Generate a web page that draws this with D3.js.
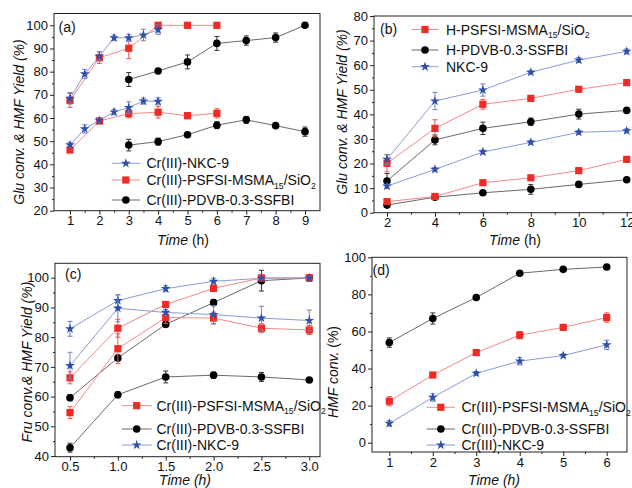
<!DOCTYPE html>
<html>
<head>
<meta charset="utf-8">
<script src="https://cdn.jsdelivr.net/npm/d3@7"></script>
<style>
  html, body { margin: 0; padding: 0; background: #fff; }
  svg { display: block; }
  text { font-family: "Liberation Sans", Arial, sans-serif; fill: #111; }
</style>
</head>
<body>
<svg id="fig" width="632" height="488"></svg>
<script>
// ---------- (a) Cr(III) catalysts, glucose ----------
const aTimeNKC = [1, 1.5, 2, 2.5, 3, 3.5, 4];
const aTimePSF = [1, 2, 3, 4, 5, 6];
const aTimePDVB = [3, 4, 5, 6, 7, 8, 9];
const aConvNKC = [68.5, 79, 86.6, 94.6, 94.6, 95.8, 98.1];
const aConvNKCErr = [2.5, 2, 2, 1.2, 1.5, 2.5, 2];
const aYieldNKC = [48.4, 55.3, 59.0, 62.6, 64.5, 67.3, 67.2];
const aYieldNKCErr = [1, 1.8, 1, 1.2, 2.5, 1.3, 1.5];
const aConvPSF = [67.6, 86.0, 90.1, 100, 100, 100];
const aConvPSFErr = [3, 2.5, 4.5, 0, 0, 0];
const aYieldPSF = [46.2, 58.7, 61.9, 62.5, 61.0, 62.0];
const aYieldPSFErr = [1, 1, 1.8, 2.5, 1.3, 2];
const aConvPDVB = [76.6, 80.3, 84.2, 92.2, 93.4, 94.7, 100];
const aConvPDVBErr = [3, 0.8, 3, 3, 2, 2, 0];
const aYieldPDVB = [48.3, 49.8, 52.8, 56.9, 59.2, 56.7, 54.1];
const aYieldPDVBErr = [2.5, 1.5, 0.8, 1.5, 1.5, 0.8, 2];

// ---------- (b) H-form catalysts, glucose ----------
const bTime = [2, 4, 6, 8, 10, 12];
const bConvNKC = [21.7, 45.4, 49.9, 57.1, 62.1, 65.6];
const bConvNKCErr = [2, 3.5, 2.5, 0.8, 1, 1];
const bYieldNKC = [10.8, 17.6, 24.7, 28.6, 32.7, 33.3];
const bYieldNKCErr = [0.8, 0.8, 0.8, 0.8, 0.8, 0.8];
const bConvPSF = [20.1, 34.3, 44.1, 46.5, 50.2, 52.9];
const bConvPSFErr = [3.5, 3.5, 2, 0.8, 1, 0.8];
const bYieldPSF = [4.5, 6.6, 12.2, 14.2, 17.1, 21.7];
const bYieldPSFErr = [1, 0.5, 0.8, 0.8, 0.8, 1];
const bConvPDVB = [12.9, 29.6, 34.3, 37.0, 40.1, 41.6];
const bConvPDVBErr = [3, 2, 2.5, 1.5, 2, 0.8];
const bYieldPDVB = [3.1, 6.3, 8.1, 9.5, 11.5, 13.4];
const bYieldPDVBErr = [0.8, 0.8, 0.8, 2, 0.8, 0.8];

// ---------- (c) Cr(III) catalysts, fructose ----------
const cTime = [0.5, 1.0, 1.5, 2.0, 2.5, 3.0];
const cConvNKC = [82.8, 92.3, 96.3, 98.8, 99.8, 99.9];
const cConvNKCErr = [2.5, 2, 1, 1, 0.5, 0.5];
const cYieldNKC = [70.4, 89.7, 88.3, 87.6, 86.4, 85.6];
const cYieldNKCErr = [4.5, 4.5, 1, 3, 4, 3.5];
const cConvPSF = [66.3, 83.0, 91.0, 96.4, 99.9, 100];
const cConvPSFErr = [2, 3, 1, 1, 1, 0.5];
const cYieldPSF = [54.6, 76.1, 86.6, 86.4, 83.0, 82.4];
const cYieldPSFErr = [2, 5, 2, 2, 1.5, 1.5];
const cConvPDVB = [59.6, 73.0, 84.3, 91.6, 99.0, 99.9];
const cConvPDVBErr = [1, 1, 1, 1, 3.5, 0.5];
const cYieldPDVB = [42.8, 60.6, 66.6, 67.2, 66.6, 65.6];
const cYieldPDVBErr = [1.5, 1, 2, 1, 1.5, 0.5];

// ---------- (d) HMF conversion ----------
const dTime = [1, 2, 3, 4, 5, 6];
const dConvPDVB = [54.0, 67.0, 78.3, 91.4, 93.5, 94.8];
const dConvPDVBErr = [2.5, 3, 0.8, 0.8, 1, 0.8];
const dConvPSF = [22.4, 36.5, 48.6, 58.0, 62.2, 67.5];
const dConvPSFErr = [2.5, 1, 0.8, 2, 1.5, 2.5];
const dConvNKC = [10.4, 24.4, 37.4, 44.0, 47.0, 52.8];
const dConvNKCErr = [1.5, 2, 1, 2, 1, 2.5];

// ---------- tick labels ----------
const aXTicks = [1, 2, 3, 4, 5, 6, 7, 8, 9];
const aYTicks = [20, 30, 40, 50, 60, 70, 80, 90, 100];
const bXTicks = [2, 4, 6, 8, 10, 12];
const bYTicks = [0, 10, 20, 30, 40, 50, 60, 70, 80];
const cXTicks = [0.5, 1.0, 1.5, 2.0, 2.5, 3.0];
const cYTicks = [40, 50, 60, 70, 80, 90, 100];
const dXTicks = [1, 2, 3, 4, 5, 6];
const dYTicks = [0, 20, 40, 60, 80, 100];

// ---------- styles ----------
const STY = {
  red:   { marker: "#ee2b25", line: "#f58a8a", err: "#ee5550", shape: "square" },
  black: { marker: "#000000", line: "#6a6a6a", err: "#333333", shape: "circle" },
  blue:  { marker: "#2f4fa8", line: "#8a9cd6", err: "#6f84c6", shape: "star" }
};

const svg = d3.select("#fig");

function marker(g, shape, color) {
  if (shape === "square") {
    return g.append("rect").attr("x", -3.6).attr("y", -3.6).attr("width", 7.2).attr("height", 7.2).attr("fill", color);
  } else if (shape === "circle") {
    return g.append("circle").attr("r", 3.8).attr("fill", color);
  }
  return g.append("path").attr("d", d3.symbol(d3.symbolStar, 30)()).attr("fill", color);
}

function labelText(sel, parts, size) {
  // parts: [text, isSub, returnsFromSub] rendered as tspans
  parts.forEach(p => {
    const t = sel.append("tspan").text(p[0]);
    if (p[1]) t.attr("font-size", size * 0.62).attr("dy", 3.5);
    else if (p[2]) t.attr("dy", -3.5);
  });
}

function panel(cfg) {
  const g = svg.append("g");
  const x = d3.scaleLinear().domain(cfg.xAnchor).range(cfg.xPx);
  const y = d3.scaleLinear().domain(cfg.yAnchor).range(cfg.yPx);
  const L = cfg.box[0], T = cfg.box[1], R = cfg.box[2], B = cfg.box[3];

  // frame
  g.append("rect").attr("x", L).attr("y", T).attr("width", R - L).attr("height", B - T)
    .attr("fill", "none").attr("stroke", "#222").attr("stroke-width", 1);

  // axes: major and minor ticks pointing outward
  g.append("g").attr("transform", `translate(0,${B})`)
    .call(d3.axisBottom(x).tickValues(cfg.xTicks).tickSize(4).tickPadding(1.5).tickFormat(cfg.xFmt));
  g.append("g").attr("transform", `translate(0,${B})`)
    .call(d3.axisBottom(x).tickValues(cfg.xMinor).tickSize(2).tickFormat(""));
  g.append("g").attr("transform", `translate(${L},0)`)
    .call(d3.axisLeft(y).tickValues(cfg.yTicks).tickSize(4).tickPadding(2).tickFormat(d3.format("d")));
  g.append("g").attr("transform", `translate(${L},0)`)
    .call(d3.axisLeft(y).tickValues(cfg.yMinor).tickSize(2).tickFormat(""));
  g.selectAll(".domain").remove();
  g.selectAll(".tick line").attr("stroke", "#222");
  g.selectAll(".tick text").attr("font-size", 13).attr("fill", "#111")
    .style("font-family", '"Liberation Sans", Arial, sans-serif');

  // series: lines, error bars, markers
  cfg.series.forEach(s => {
    const st = STY[s.color];
    const pts = s.t.map((t, i) => ({ t, v: s.v[i], e: s.e[i] }));
    g.append("path").datum(pts)
      .attr("d", d3.line().x(d => x(d.t)).y(d => y(d.v)))
      .attr("fill", "none").attr("stroke", st.line).attr("stroke-width", 1);
    const eb = g.append("g").attr("stroke", st.err).attr("stroke-width", 1);
    pts.filter(d => d.e > 0).forEach(d => {
      const cx = x(d.t);
      eb.append("line").attr("x1", cx).attr("x2", cx).attr("y1", y(d.v - d.e)).attr("y2", y(d.v + d.e));
      eb.append("line").attr("x1", cx - 2.5).attr("x2", cx + 2.5).attr("y1", y(d.v - d.e)).attr("y2", y(d.v - d.e));
      eb.append("line").attr("x1", cx - 2.5).attr("x2", cx + 2.5).attr("y1", y(d.v + d.e)).attr("y2", y(d.v + d.e));
    });
    pts.forEach(d => {
      const m = g.append("g").attr("transform", `translate(${x(d.t)},${y(d.v)})`);
      marker(m, st.shape, st.marker);
    });
  });

  // legend
  const lg = cfg.legend;
  lg.rows.forEach((r, i) => {
    const st = STY[r.color];
    const yy = lg.ys[i];
    g.append("line").attr("x1", lg.x0).attr("x2", lg.x1).attr("y1", yy).attr("y2", yy)
      .attr("stroke", st.line).attr("stroke-width", 1);
    const m = g.append("g").attr("transform", `translate(${(lg.x0 + lg.x1) / 2},${yy})`);
    marker(m, st.shape, st.marker);
    const t = g.append("text").attr("x", lg.tx).attr("y", yy).attr("dy", "0.36em").attr("font-size", 14);
    labelText(t, r.parts, 14);
  });

  // panel tag
  g.append("text").attr("x", cfg.tag[1]).attr("y", cfg.tag[2]).attr("dy", "0.36em")
    .attr("font-size", 14).text(cfg.tag[0]);

  // axis titles
  const yt = g.append("text").attr("transform", `translate(${cfg.yTitle.x},${cfg.yTitle.y}) rotate(-90)`)
    .attr("text-anchor", "middle").attr("dy", "0.36em").attr("font-size", 14);
  cfg.yTitle.parts.forEach(p => yt.append("tspan").attr("font-style", p[1] ? "italic" : "normal").text(p[0]));
  const xt = g.append("text").attr("x", cfg.xTitle.x).attr("y", cfg.xTitle.y)
    .attr("text-anchor", "middle").attr("dy", "0.36em").attr("font-size", 14);
  cfg.xTitle.parts.forEach(p => xt.append("tspan").attr("font-style", p[1] ? "italic" : "normal").text(p[0]));
}

const psfParts = [["Cr(III)-PSFSI-MSMA"], ["15", true], ["/SiO", false, true], ["2", true]];
const pdvbParts = [["Cr(III)-PDVB-0.3-SSFBI"]];
const nkcParts = [["Cr(III)-NKC-9"]];

// (a)
panel({
  box: [54, 13.5, 320, 210.7],
  xAnchor: [1, 9], xPx: [70, 305],
  yAnchor: [20, 100], yPx: [210.7, 25.3],
  xTicks: aXTicks, xMinor: d3.range(1.5, 9, 1), xFmt: d3.format("d"),
  yTicks: aYTicks, yMinor: d3.range(25, 100, 10),
  series: [
    { color: "black", t: aTimePDVB, v: aConvPDVB, e: aConvPDVBErr },
    { color: "black", t: aTimePDVB, v: aYieldPDVB, e: aYieldPDVBErr },
    { color: "red", t: aTimePSF, v: aConvPSF, e: aConvPSFErr },
    { color: "red", t: aTimePSF, v: aYieldPSF, e: aYieldPSFErr },
    { color: "blue", t: aTimeNKC, v: aConvNKC, e: aConvNKCErr },
    { color: "blue", t: aTimeNKC, v: aYieldNKC, e: aYieldNKCErr }
  ],
  legend: { x0: 111.7, x1: 140, tx: 146.5, ys: [163.3, 180, 200],
    rows: [{ color: "blue", parts: nkcParts }, { color: "red", parts: psfParts }, { color: "black", parts: pdvbParts }] },
  tag: ["(a)", 58.5, 26.5],
  yTitle: { x: 19, y: 122, parts: [["Glu conv. & HMF Yield (%)", true]] },
  xTitle: { x: 183, y: 240, parts: [["Time", true], [" (h)", false]] }
});

// (b)
panel({
  box: [374, 16, 645, 212.7],
  xAnchor: [2, 12], xPx: [387, 626.7],
  yAnchor: [0, 80], yPx: [212.7, 16],
  xTicks: bXTicks, xMinor: d3.range(3, 13, 2), xFmt: d3.format("d"),
  yTicks: bYTicks, yMinor: d3.range(5, 80, 10),
  series: [
    { color: "black", t: bTime, v: bConvPDVB, e: bConvPDVBErr },
    { color: "black", t: bTime, v: bYieldPDVB, e: bYieldPDVBErr },
    { color: "red", t: bTime, v: bConvPSF, e: bConvPSFErr },
    { color: "red", t: bTime, v: bYieldPSF, e: bYieldPSFErr },
    { color: "blue", t: bTime, v: bConvNKC, e: bConvNKCErr },
    { color: "blue", t: bTime, v: bYieldNKC, e: bYieldNKCErr }
  ],
  legend: { x0: 411.7, x1: 438.3, tx: 446, ys: [29.5, 50, 66.7],
    rows: [{ color: "red", parts: [["H-PSFSI-MSMA"], ["15", true], ["/SiO", false, true], ["2", true]] },
           { color: "black", parts: [["H-PDVB-0.3-SSFBI"]] },
           { color: "blue", parts: [["NKC-9"]] }] },
  tag: ["(b)", 380, 29],
  yTitle: { x: 342, y: 112, parts: [["Glu conv. & HMF Yield (%)", true]] },
  xTitle: { x: 515, y: 240, parts: [["Time", true], [" (h)", false]] }
});

// (c)
panel({
  box: [55, 263.3, 320, 456.7],
  xAnchor: [0.5, 3.0], xPx: [70, 309.3],
  yAnchor: [40, 100], yPx: [456, 277.7],
  xTicks: cXTicks, xMinor: d3.range(0.75, 3.0, 0.5), xFmt: d3.format(".1f"),
  yTicks: cYTicks, yMinor: d3.range(45, 105, 10),
  series: [
    { color: "black", t: cTime, v: cConvPDVB, e: cConvPDVBErr },
    { color: "black", t: cTime, v: cYieldPDVB, e: cYieldPDVBErr },
    { color: "red", t: cTime, v: cConvPSF, e: cConvPSFErr },
    { color: "red", t: cTime, v: cYieldPSF, e: cYieldPSFErr },
    { color: "blue", t: cTime, v: cConvNKC, e: cConvNKCErr },
    { color: "blue", t: cTime, v: cYieldNKC, e: cYieldNKCErr }
  ],
  legend: { x0: 121.7, x1: 151.7, tx: 156.5, ys: [405.7, 429, 445],
    rows: [{ color: "red", parts: psfParts }, { color: "black", parts: pdvbParts }, { color: "blue", parts: nkcParts }] },
  tag: ["(c)", 65, 273.5],
  yTitle: { x: 27, y: 362, parts: [["Fru conv.& HMF Yield (%)", true]] },
  xTitle: { x: 185, y: 480, parts: [["Time (h)", true]] }
});

// (d)
panel({
  box: [372, 257.3, 627, 452],
  xAnchor: [1, 6], xPx: [389.3, 606.7],
  yAnchor: [0, 100], yPx: [442.7, 257.3],
  xTicks: dXTicks, xMinor: d3.range(1.5, 6.5, 1), xFmt: d3.format("d"),
  yTicks: dYTicks, yMinor: d3.range(10, 100, 20),
  series: [
    { color: "black", t: dTime, v: dConvPDVB, e: dConvPDVBErr },
    { color: "red", t: dTime, v: dConvPSF, e: dConvPSFErr },
    { color: "blue", t: dTime, v: dConvNKC, e: dConvNKCErr }
  ],
  legend: { x0: 426.7, x1: 455, tx: 461.5, ys: [407.3, 429, 445],
    rows: [{ color: "red", parts: psfParts }, { color: "black", parts: pdvbParts }, { color: "blue", parts: nkcParts }] },
  tag: ["(d)", 372.5, 270],
  yTitle: { x: 333, y: 372, parts: [["HMF conv.", true], [" (%)", false]] },
  xTitle: { x: 494, y: 480, parts: [["Time (h)", true]] }
});
</script>
</body>
</html>
